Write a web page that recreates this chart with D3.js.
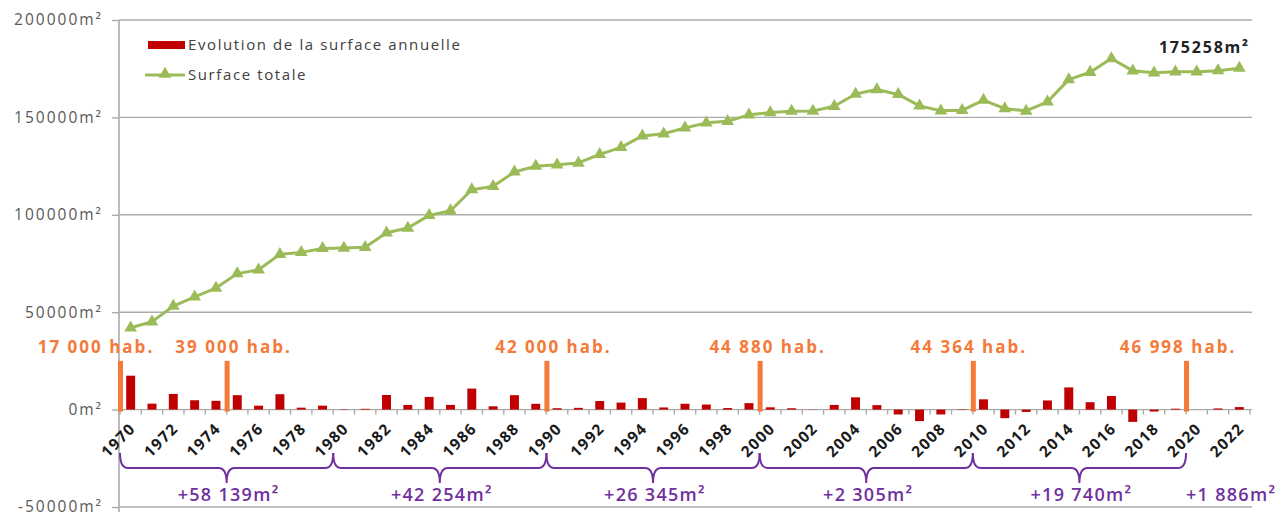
<!DOCTYPE html>
<html>
<head>
<meta charset="utf-8">
<script src="https://cdn.jsdelivr.net/npm/d3@7"></script>
<style>
  body { margin: 0; background: #fff; }
  svg { display: block; }
  text { font-family: "Open Sans", "Liberation Sans", sans-serif; }
</style>
</head>
<body>
<svg id="chart" width="1282" height="512"></svg>
<script>
// ---- data ----------------------------------------------------------------
const years = [
  1970, 1971, 1972, 1973, 1974, 1975, 1976, 1977, 1978, 1979,
  1980, 1981, 1982, 1983, 1984, 1985, 1986, 1987, 1988, 1989,
  1990, 1991, 1992, 1993, 1994, 1995, 1996, 1997, 1998, 1999,
  2000, 2001, 2002, 2003, 2004, 2005, 2006, 2007, 2008, 2009,
  2010, 2011, 2012, 2013, 2014, 2015, 2016, 2017, 2018, 2019,
  2020, 2021, 2022
];

// Evolution de la surface annuelle (m²)
const annualChange = [
  17411, 3070, 8030, 4800, 4500, 7400, 2000, 7900, 1000, 2028,
  172, 400, 7500, 2400, 6500, 2400, 10800, 1700, 7400, 2982,
  718, 900, 4400, 3600, 5900, 1100, 3000, 2600, 800, 3327,
  1173, 700, 100, 2400, 6300, 2300, -2500, -5900, -2500, 232,
  5268, -4400, -1200, 4700, 11400, 3800, 7000, -6300, -1000, 472,
  0, 600, 1286
];

// Surface totale (m²)
const totalSurface = [
  42000, 45070, 53100, 57900, 62400, 69800, 71800, 79700, 80700, 82728,
  82900, 83300, 90800, 93200, 99700, 102100, 112900, 114600, 122000, 124982,
  125700, 126600, 131000, 134600, 140500, 141600, 144600, 147200, 148000, 151327,
  152500, 153200, 153300, 155700, 162000, 164300, 161800, 155900, 153400, 153632,
  158900, 154500, 153300, 158000, 169400, 173200, 180200, 173900, 172900, 173372,
  173372, 173972, 175258
];

const yTicks = [-50000, 0, 50000, 100000, 150000, 200000];
const xLabelYears = years.filter(yr => yr % 2 === 0);

// population milestones
const popYears = [1970, 1975, 1990, 2000, 2010, 2020];
const popLabels = ["17 000 hab.", "39 000 hab.", "42 000 hab.", "44 880 hab.", "44 364 hab.", "46 998 hab."];

// surface gained per period
const periodStart = [1970, 1980, 1990, 2000, 2010, 2020];
const periodEnd   = [1980, 1990, 2000, 2010, 2020, 2023];
const periodLabels = ["+58 139m²", "+42 254m²", "+26 345m²", "+2 305m²", "+19 740m²", "+1 886m²"];

// ---- layout --------------------------------------------------------------
const popLabelNudge = [-24, 7, 7, 8, -4, -8];
const markerTop = 25000;
const C = {
  grid: "#ababab", axisText: "#595959", legendText: "#404040",
  bar: "#C00000", line: "#9BBB59", pop: "#F47A3A", period: "#7030A0"
};

const svg = d3.select("#chart");

const x = d3.scaleBand().domain(years).range([120, 1250]).padding(0);
const bw = x.bandwidth();
const xEdge = yr => yr > 2022 ? x.range()[1] : x(yr);
const xc = yr => x(yr) + bw / 2;
const y = d3.scaleLinear().domain([-50000, 200000]).range([507, 20]);

// gridlines
svg.append("g").selectAll("line").data(yTicks).join("line")
  .attr("x1", 119).attr("x2", 1252)
  .attr("y1", d => y(d)).attr("y2", d => y(d))
  .attr("stroke", C.grid).attr("stroke-width", 1.4);

// y axis
const yAxis = svg.append("g").attr("transform", "translate(119,0)")
  .call(d3.axisLeft(y).tickValues(yTicks).tickSize(7).tickPadding(9)
    .tickFormat(d => d + "m²"));
yAxis.select(".domain").remove();
yAxis.selectAll(".tick line").attr("stroke", C.grid).attr("stroke-width", 1.4);
yAxis.selectAll(".tick text")
  .attr("fill", C.axisText).style("font-size", "15.5px")
  .style("letter-spacing", "2px").style("font-family", "\"Open Sans\", sans-serif");
svg.append("line").attr("x1", 119).attr("x2", 119).attr("y1", y(200000)).attr("y2", 512)
  .attr("stroke", C.grid).attr("stroke-width", 1.6);

// x ticks at category boundaries
const edges = years.map(yr => x(yr)).concat([x.range()[1]]);
svg.append("g").selectAll("line").data(edges).join("line")
  .attr("x1", d => d).attr("x2", d => d)
  .attr("y1", y(0)).attr("y2", y(0) + 5)
  .attr("stroke", C.grid).attr("stroke-width", 1.4);

// x labels
svg.append("g").selectAll("text").data(xLabelYears).join("text")
  .attr("transform", yr => `translate(${xc(yr) + 2},${y(0) + 16}) rotate(-45)`)
  .attr("text-anchor", "end").attr("dy", "0.35em")
  .attr("fill", "#1a1a1a").style("font-size", "15.5px").style("font-weight", 700)
  .style("letter-spacing", "1.3px")
  .text(yr => yr);

// annual change bars
svg.append("g").selectAll("rect").data(years).join("rect")
  .attr("x", yr => x(yr) + bw * 0.29)
  .attr("width", bw * 0.42)
  .attr("y", (yr, i) => y(Math.max(0, annualChange[i])))
  .attr("height", (yr, i) => Math.abs(y(annualChange[i]) - y(0)))
  .attr("fill", C.bar);

// population markers
svg.append("g").selectAll("rect").data(popYears).join("rect")
  .attr("x", yr => x(yr) - 2)
  .attr("width", 5)
  .attr("y", y(markerTop))
  .attr("height", y(0) - y(markerTop) + 2)
  .attr("fill", C.pop);
svg.append("g").selectAll("text").data(popYears).join("text")
  .attr("x", (yr, i) => x(yr) + popLabelNudge[i])
  .attr("y", 353)
  .attr("text-anchor", "middle")
  .attr("fill", C.pop).style("font-size", "17px").style("font-weight", 700)
  .style("letter-spacing", "2px")
  .text((yr, i) => popLabels[i]);

// total surface line
const pts = years.map((yr, i) => [xc(yr), y(totalSurface[i])]);
svg.append("path").datum(pts)
  .attr("d", d3.line())
  .attr("fill", "none").attr("stroke", C.line).attr("stroke-width", 3)
  .attr("stroke-linejoin", "round");
svg.append("g").selectAll("path").data(pts).join("path")
  .attr("transform", d => `translate(${d[0]},${d[1]})`)
  .attr("d", d3.symbol(d3.symbolTriangle, 70))
  .attr("fill", C.line);

// final value label
const lastTotal = totalSurface[totalSurface.length - 1];
svg.append("text")
  .attr("x", 1250).attr("y", 53).attr("text-anchor", "end")
  .attr("fill", "#222").style("font-size", "16px").style("font-weight", 700)
  .style("letter-spacing", "1.8px")
  .text(lastTotal + "m²");

// period braces and gains
const braceTop = 453, braceMid = 468, braceTip = 483;
const brace = (x0, x1) => {
  const xm = (x0 + x1) / 2, r = 8;
  return `M${x0},${braceTop} Q${x0},${braceMid} ${x0 + r},${braceMid}` +
    ` L${xm - r},${braceMid} Q${xm},${braceMid} ${xm},${braceTip}` +
    ` Q${xm},${braceMid} ${xm + r},${braceMid}` +
    ` L${x1 - r},${braceMid} Q${x1},${braceMid} ${x1},${braceTop}`;
};
const periods = periodStart.map((s, i) => ({ s, e: periodEnd[i], label: periodLabels[i], full: periodEnd[i] - s === 10 }));
svg.append("g").selectAll("path").data(periods.filter(p => p.full)).join("path")
  .attr("d", p => brace(xEdge(p.s), xEdge(p.e)))
  .attr("fill", "none").attr("stroke", C.period).attr("stroke-width", 2);
svg.append("g").selectAll("text").data(periods).join("text")
  .attr("x", p => p.full ? (xEdge(p.s) + xEdge(p.e)) / 2 + 2 : xEdge(p.s))
  .attr("y", 501)
  .attr("text-anchor", p => p.full ? "middle" : "start")
  .attr("fill", C.period).style("font-size", "18px").style("font-weight", 600)
  .style("letter-spacing", "1.3px")
  .text(p => p.label);

// legend
const lg = svg.append("g");
lg.append("rect").attr("x", 148).attr("y", 41).attr("width", 37).attr("height", 8).attr("fill", C.bar);
lg.append("text").attr("x", 188).attr("y", 45).attr("dy", "0.35em")
  .attr("fill", C.legendText).style("font-size", "15px").style("letter-spacing", "1.6px")
  .text("Evolution de la surface annuelle");
lg.append("line").attr("x1", 145).attr("x2", 185).attr("y1", 75).attr("y2", 75)
  .attr("stroke", C.line).attr("stroke-width", 3);
lg.append("path").attr("transform", "translate(165,74)")
  .attr("d", d3.symbol(d3.symbolTriangle, 70)).attr("fill", C.line);
lg.append("text").attr("x", 188).attr("y", 75).attr("dy", "0.35em")
  .attr("fill", C.legendText).style("font-size", "15px").style("letter-spacing", "1.6px")
  .text("Surface totale");
</script>
</body>
</html>
